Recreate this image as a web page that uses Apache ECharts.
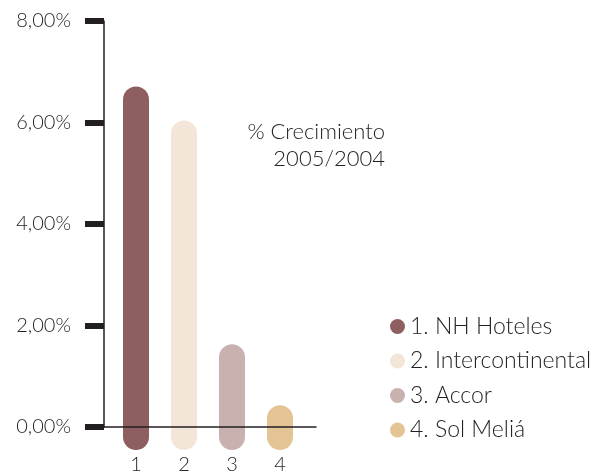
<!DOCTYPE html>
<html>
<head>
<meta charset="utf-8">
<script src="https://cdn.jsdelivr.net/npm/echarts@6/dist/echarts.min.js"></script>
<style>
html,body{margin:0;padding:0;background:#fff;}
#chart{width:602px;height:475px;}
</style>
</head>
<body>
<div id="chart"></div>
<script>
// ---- data ----
var categories = ['1', '2', '3', '4'];
var seriesNames = ['1. NH Hoteles', '2. Intercontinental', '3. Accor', '4. Sol Meliá'];
var growthValues = [6.71, 6.04, 1.63, 0.43];
var yTickValues = [0, 2, 4, 6, 8];
var xTickValues = [1, 2, 3, 4];
var barColors = ['#8f5e61', '#f3e5d7', '#c9b1b0', '#e4c394'];
var annotationLines = ['% Crecimiento', '2005/2004'];

var ink = '#231f20';
var font = 'Lato';
var weight = 300;

function capsule(params, api) {
  var x = api.value(0), v = api.value(1);
  var top = api.coord([x, v]);
  var base = api.coord([x, 0]);
  var w = 26;
  return {
    type: 'rect',
    shape: { x: top[0] - w / 2, y: top[1], width: w, height: base[1] - top[1] + 23, r: w / 2 },
    style: { fill: api.visual('color') }
  };
}

var series = seriesNames.map(function (name, i) {
  return {
    type: 'custom',
    name: name,
    renderItem: capsule,
    itemStyle: { color: barColors[i] },
    clip: false,
    z: 1,
    data: [[xTickValues[i], growthValues[i]]]
  };
});

var chart = echarts.init(document.getElementById('chart'), null, { renderer: 'canvas' });
chart.setOption({
  animation: false,
  backgroundColor: '#ffffff',
  textStyle: { fontFamily: font, color: ink, fontWeight: weight },
  grid: { left: 104, right: 286, top: 21, bottom: 47, containLabel: false },
  xAxis: {
    type: 'value',
    min: 1 / 3,
    max: 4.75,
    splitLine: { show: false },
    axisLine: { show: true, onZero: true, lineStyle: { color: ink, width: 1.5 } },
    axisTick: { show: false },
    axisLabel: {
      customValues: xTickValues,
      formatter: function (v) { return categories[xTickValues.indexOf(Math.round(v))] || ''; },
      fontFamily: font, fontWeight: weight, fontSize: 20, color: ink, margin: 28
    },
    z: 5
  },
  yAxis: {
    type: 'value',
    min: 0,
    max: 8,
    interval: 2,
    splitLine: { show: false },
    axisLine: { show: true, lineStyle: { color: ink, width: 1.5 } },
    axisTick: { show: true, customValues: yTickValues, length: 19, lineStyle: { color: ink, width: 6 } },
    axisLabel: {
      customValues: yTickValues,
      formatter: function (v) { return v.toFixed(2).replace('.', ',') + '%'; },
      fontFamily: font, fontWeight: weight, fontSize: 20, color: ink, margin: 33
    },
    z: 5
  },
  legend: {
    orient: 'vertical',
    left: 385,
    top: 310,
    icon: 'circle',
    itemWidth: 15,
    itemHeight: 15,
    itemGap: 11.5,
    textStyle: { fontFamily: font, fontWeight: weight, fontSize: 23, lineHeight: 22, color: ink },
    data: seriesNames
  },
  graphic: annotationLines.map(function (line, i) {
    return {
      type: 'text',
      x: 385,
      y: 121 + i * 27,
      style: {
        text: line,
        align: 'right',
        verticalAlign: 'top',
        fontFamily: font,
        fontWeight: weight,
        fontSize: 22,
        fill: ink
      }
    };
  }),
  series: series
});
</script>
</body>
</html>
